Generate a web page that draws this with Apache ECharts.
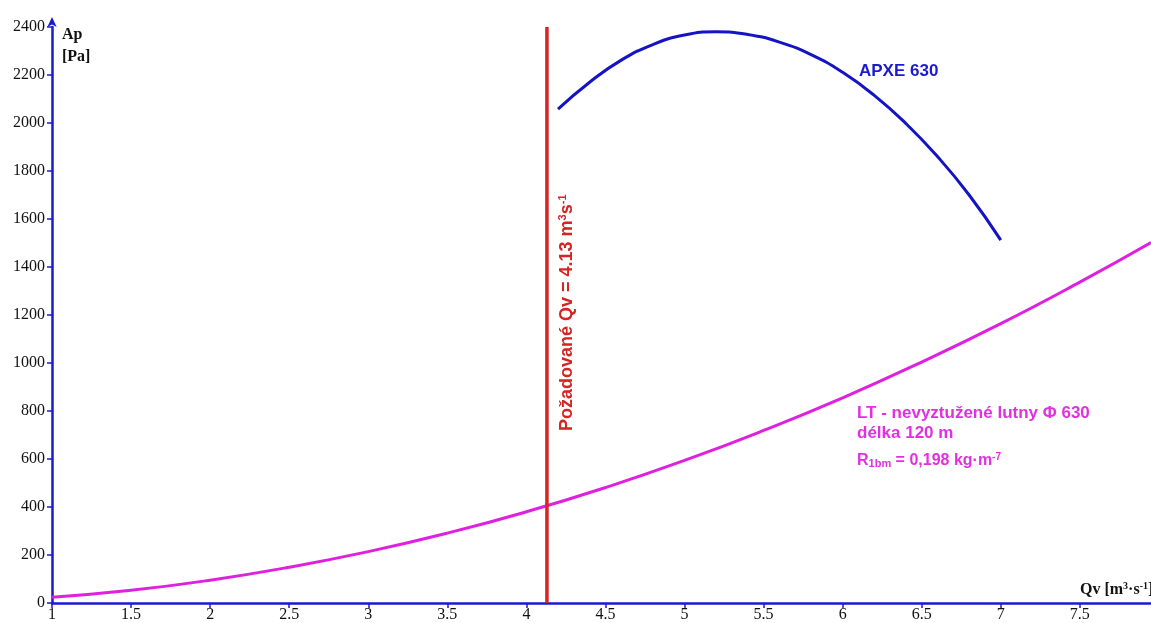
<!DOCTYPE html>
<html>
<head>
<meta charset="utf-8">
<script src="https://cdn.jsdelivr.net/npm/echarts@6/dist/echarts.min.js"></script>
<style>
  html, body { margin: 0; padding: 0; background: #fff; }
  #chart { width: 1151px; height: 623px; }
</style>
</head>
<body>
<div id="chart"></div>
<script>
// fan curve APXE 630
const fanQ = [4.2, 4.4, 4.6, 4.8, 5.0, 5.2, 5.4, 5.6, 5.8, 6.0, 6.2, 6.4, 6.6, 6.8, 7.0];
const fanP = [2058, 2170, 2262, 2327, 2367, 2380, 2369, 2337, 2285, 2211, 2115, 1998, 1860, 1700, 1512];

// duct resistance curve (LT - nevyztužené lutny)
const ductQ = [1, 1.5, 2, 2.5, 3, 3.5, 4, 4.5, 5, 5.5, 6, 6.5, 7, 7.5, 7.95];
const ductP = [24, 53, 95, 149, 214, 291, 380, 481, 594, 719, 855, 1004, 1164, 1337, 1502];

// required flow
const reqQ = 4.13;
const reqP = [0, 2400];

const axisColor = '#1a1ad2';
const serif = '"Liberation Serif", "DejaVu Serif", serif';
const sans = '"Liberation Sans", Arial, sans-serif';

const chart = echarts.init(document.getElementById('chart'));

function rt(color, family, size, pad) {
  return { fontFamily: family, fontWeight: 'bold', fontSize: size, fill: color, color: color, padding: pad || 0 };
}

const option = {
  backgroundColor: '#fff',
  animation: false,
  grid: { left: 52, right: 0, top: 27, bottom: 20 },
  xAxis: {
    type: 'value',
    min: 1,
    max: 7.95,
    interval: 0.5,
    axisLine: { show: true, lineStyle: { color: axisColor, width: 2.5 } },
    axisTick: { show: true, length: 5, lineStyle: { color: axisColor, width: 1.5 } },
    axisLabel: {
      color: '#111', fontFamily: serif, fontSize: 16, margin: 4,
      showMaxLabel: false
    },
    splitLine: { show: false }
  },
  yAxis: {
    type: 'value',
    min: 0,
    max: 2400,
    interval: 200,
    axisLine: {
      show: true,
      symbol: ['none', 'arrow'],
      symbolSize: [7, 10],
      symbolOffset: [0, 10],
      lineStyle: { color: axisColor, width: 2.5 }
    },
    axisTick: { show: true, length: 5, lineStyle: { color: axisColor, width: 1.5 } },
    axisLabel: {
      color: '#111', fontFamily: serif, fontSize: 16, margin: 7,
      formatter: v => String(v)
    },
    splitLine: { show: false }
  },
  series: [
    {
      name: 'LT',
      type: 'line',
      smooth: true,
      showSymbol: false,
      data: ductQ.map((q, i) => [q, ductP[i]]),
      lineStyle: { color: '#e020e0', width: 3 },
      z: 3
    },
    {
      name: 'APXE 630',
      type: 'line',
      smooth: true,
      showSymbol: false,
      data: fanQ.map((q, i) => [q, fanP[i]]),
      lineStyle: { color: '#1414c4', width: 3 },
      z: 3
    },
    {
      name: 'Qv',
      type: 'line',
      showSymbol: false,
      data: reqP.map(p => [reqQ, p]),
      lineStyle: { color: '#d42424', width: 3.5 },
      z: 4
    }
  ],
  graphic: [
    {
      type: 'text', left: 62, top: 24,
      style: { text: 'Ap\n[Pa]', font: 'bold 16px ' + serif, fill: '#111', lineHeight: 22 }
    },
    {
      type: 'text', left: 1080, top: 581,
      style: {
        text: '{a|Qv [m}{p|3}{a|·s}{p|-1}{a|]}',
        rich: {
          a: rt('#111', serif, 16),
          p: rt('#111', serif, 10, [0, 0, 8, 0])
        }
      }
    },
    {
      type: 'text', left: 859, top: 63,
      style: { text: 'APXE 630', font: 'bold 17px ' + sans, fill: '#1a1ad2' }
    },
    {
      type: 'text', left: 857, top: 403,
      style: {
        text: 'LT - nevyztužené lutny Φ 630\ndélka 120 m',
        font: 'bold 17px ' + sans, fill: '#e030e0', lineHeight: 20
      }
    },
    {
      type: 'text', left: 857, top: 452,
      style: {
        text: '{a|R}{s|1bm}{a| = 0,198 kg·m}{p|-7}',
        rich: {
          a: rt('#e030e0', sans, 16),
          s: rt('#e030e0', sans, 11, [6, 0, 0, 0]),
          p: rt('#e030e0', sans, 10, [0, 0, 8, 0])
        }
      }
    },
    {
      type: 'text',
      x: 557, y: 431,
      rotation: Math.PI / 2,
      style: {
        text: '{a|Požadované Qv = 4.13 m}{p|3}{a|s}{p|-1}',
        rich: {
          a: rt('#d42424', sans, 18),
          p: rt('#d42424', sans, 11, [0, 0, 9, 0])
        }
      }
    }
  ]
};

chart.setOption(option);
</script>
</body>
</html>
